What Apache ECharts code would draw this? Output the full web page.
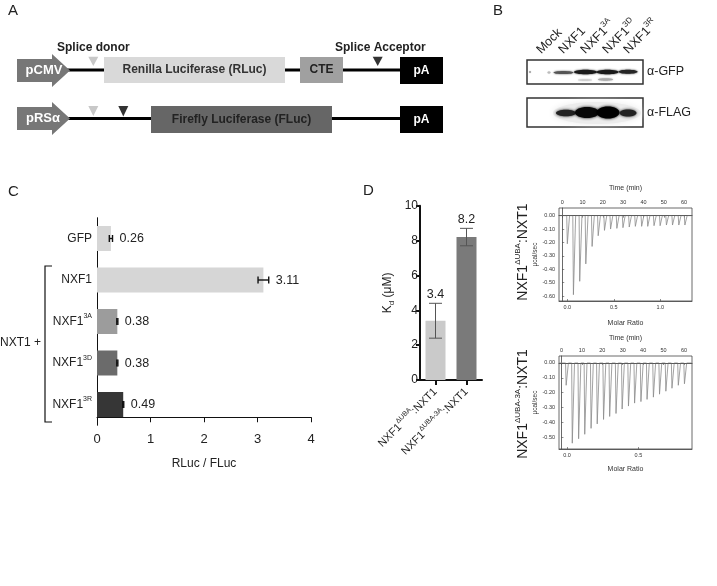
<!DOCTYPE html>
<html>
<head>
<meta charset="utf-8">
<script src="https://cdn.jsdelivr.net/npm/echarts@6/dist/echarts.min.js"></script>
<style>
html, body { margin: 0; padding: 0; background: #fff; }
#main { width: 717px; height: 586px; }
</style>
</head>
<body>
<div id="main"></div>
<script>
var FONT = '"Liberation Sans", Arial, Helvetica, sans-serif';

// panel C - splicing reporter (RLuc / FLuc)
var reporterNames = ['GFP', 'NXF1', 'NXF1^3A', 'NXF1^3D', 'NXF1^3R'];
var reporterRatio = [0.26, 3.11, 0.38, 0.38, 0.49];
var reporterErr = [0.03, 0.10, 0.01, 0.01, 0.01];
var reporterColors = ['#d6d6d6', '#d6d6d6', '#9c9c9c', '#6b6b6b', '#363636'];
var ratioTicks = [0, 1, 2, 3, 4];

// panel D - Kd bars
var kdNames = ['NXF1^ΔUBA^:NXT1', 'NXF1^ΔUBA-3A^:NXT1'];
var kdValues = [3.4, 8.2];
var kdErr = [1.0, 0.5];
var kdColors = ['#cacaca', '#7a7a7a'];
var kdTicks = [0, 2, 4, 6, 8, 10];

// panel D - ITC traces (injection time in min, peak in µcal/sec)
var itcTime1 = [2.2, 5.2, 8.3, 11.3, 14.4, 17.4, 20.5, 23.5, 26.6, 29.6, 32.7, 35.7, 38.8, 41.8, 44.9, 47.9, 51.0, 54.0, 57.1, 60.1];
var itcPeak1 = [-0.21, -0.59, -0.49, -0.36, -0.23, -0.15, -0.11, -0.10, -0.095, -0.09, -0.085, -0.08, -0.08, -0.08, -0.075, -0.075, -0.07, -0.07, -0.07, -0.07];
var itcTime2 = [2.0, 5.0, 8.1, 11.1, 14.2, 17.2, 20.3, 23.3, 26.4, 29.4, 32.5, 35.5, 38.6, 41.6, 44.7, 47.7, 50.8, 53.8, 56.9, 59.9];
var itcPeak2 = [-0.15, -0.54, -0.51, -0.48, -0.44, -0.41, -0.38, -0.36, -0.34, -0.31, -0.29, -0.27, -0.26, -0.245, -0.23, -0.21, -0.19, -0.17, -0.15, -0.14];
var timeTicks = [0, 10, 20, 30, 40, 50, 60];
var molarTicks1 = [0, 0.5, 1.0];
var molarTicks2 = [0, 0.5];
var itcTicks1 = [0, -0.1, -0.2, -0.3, -0.4, -0.5, -0.6];
var itcTicks2 = [0, -0.1, -0.2, -0.3, -0.4, -0.5];

// panel B - blot lanes
var laneNames = ['Mock', 'NXF1', 'NXF1^3A', 'NXF1^3D', 'NXF1^3R'];

function supText(s) {
	var p = s.split('^');
	var out = '{m|' + p[0] + '}';
	if (p[1]) out += '{s|' + p[1] + '}';
	if (p[2]) out += '{m|' + p[2] + '}';
	return out;
}
function supRich(size, color, weight) {
	var small = Math.round(size * 0.6);
	return {
		m: { fontSize: size, color: color, fill: color, fontFamily: FONT, fontWeight: weight || 'normal', lineHeight: size + 5 },
		s: { fontSize: small, color: color, fill: color, fontFamily: FONT, verticalAlign: 'top', lineHeight: small + 1 }
	};
}

// spike trace: each injection drawn as a sharp dip back to baseline
function itcTrace(times, peaks, tMin, tMax) {
	var pts = [[tMin, 0]];
	for (var i = 0; i < times.length; i++) {
		pts.push([times[i], 0]);
		pts.push([times[i] + 0.3, peaks[i]]);
		pts.push([times[i] + 1.4, 0]);
	}
	pts.push([tMax, 0]);
	return pts;
}

function txt(x, y, text, size, opt) {
	opt = opt || {};
	return {
		type: 'text', x: x, y: y, silent: true, rotation: opt.rotation || 0,
		style: {
			text: text, fontSize: size, fontFamily: FONT, fontWeight: opt.weight || 'normal',
			fill: opt.color || '#222',
			align: opt.align || 'left', textAlign: opt.align || 'left',
			verticalAlign: opt.valign || 'middle', textVerticalAlign: opt.valign || 'middle',
			rich: opt.rich
		}
	};
}
function box(x, y, w, h, fill, stroke) {
	return { type: 'rect', silent: true, shape: { x: x, y: y, width: w, height: h },
		style: { fill: fill, stroke: stroke || null, lineWidth: stroke ? 1.5 : 0 } };
}
function tri(x, y, w, h, fill) {
	return { type: 'polygon', silent: true, shape: { points: [[x, y], [x + w, y], [x + w / 2, y + h]] }, style: { fill: fill } };
}
function promoter(cy) {
	return { type: 'polygon', silent: true,
		shape: { points: [[17, cy - 11.5], [52, cy - 11.5], [52, cy - 16.5], [70, cy], [52, cy + 16.5], [52, cy + 11.5], [17, cy + 11.5]] },
		style: { fill: '#777' } };
}
function band(cx, cy, rx, ry, color, blur) {
	return { type: 'ellipse', silent: true, shape: { cx: cx, cy: cy, rx: rx, ry: ry },
		style: { fill: color, shadowBlur: blur || 2, shadowColor: color } };
}

var graphics = [
	// panel letters
	txt(8, 11, 'A', 15), txt(493, 11, 'B', 15), txt(8, 192, 'C', 15), txt(363, 191, 'D', 15),

	// panel A - reporter constructs
	{ type: 'line', silent: true, shape: { x1: 60, y1: 70, x2: 405, y2: 70 }, style: { stroke: '#000', lineWidth: 3 } },
	{ type: 'line', silent: true, shape: { x1: 60, y1: 118.5, x2: 405, y2: 118.5 }, style: { stroke: '#000', lineWidth: 3 } },
	promoter(70.5), promoter(118.5),
	txt(44, 70.5, 'pCMV', 13, { weight: 'bold', color: '#fff', align: 'center' }),
	txt(43, 118.5, 'pRSα', 13, { weight: 'bold', color: '#fff', align: 'center' }),
	tri(88.3, 56.7, 10, 9.3, '#c8c8c8'), tri(372.7, 56.7, 10, 9.3, '#333'),
	tri(88.3, 106, 10, 10, '#c8c8c8'), tri(118.3, 106, 10, 10.5, '#333'),
	box(104, 57, 181, 26, '#d9d9d9'),
	txt(194.5, 70, 'Renilla Luciferase (RLuc)', 12, { weight: 'bold', color: '#333', align: 'center' }),
	box(300, 57, 43, 26, '#a0a0a0'),
	txt(321.5, 70, 'CTE', 12, { weight: 'bold', color: '#222', align: 'center' }),
	box(400, 57, 43, 27, '#000'),
	txt(421.5, 70.5, 'pA', 12, { weight: 'bold', color: '#fff', align: 'center' }),
	box(151, 106, 181, 27, '#666'),
	txt(241.5, 119.5, 'Firefly Luciferase (FLuc)', 12, { weight: 'bold', color: '#222', align: 'center' }),
	box(400, 106, 43, 27, '#000'),
	txt(421.5, 119.5, 'pA', 12, { weight: 'bold', color: '#fff', align: 'center' }),
	txt(57, 48, 'Splice donor', 12, { weight: 'bold' }),
	txt(335, 48, 'Splice Acceptor', 12, { weight: 'bold' }),

	// panel B - western blot
	box(527, 60, 116, 24, '#fff', '#333'),
	box(527, 98, 116, 29, '#fff', '#333'),
	band(530, 72, 1, 1, '#aaa', 1), band(549, 72.5, 1.5, 1, '#bbb', 1),
	band(563.5, 72.5, 10, 1.6, '#555'),
	band(585.5, 72, 11.5, 2.3, '#1a1a1a'),
	band(607.5, 72, 11, 2.3, '#1a1a1a'),
	band(628, 71.8, 9.5, 2, '#262626'),
	band(585, 80, 7, 1, '#d0d0d0'), band(605.5, 79.5, 7.5, 1.2, '#aaa'),
	band(597, 113, 44, 11, '#ececec', 6),
	band(566, 113, 10, 3.2, '#222', 3),
	band(587, 112.5, 12, 5.5, '#080808', 3),
	band(608, 112.5, 11.5, 6, '#000', 3),
	band(628, 113, 8.5, 3.5, '#222', 3),
	txt(647, 72, 'α-GFP', 12.5),
	txt(647, 113, 'α-FLAG', 12.5),

	// panel C - NXT1 + bracket
	{ type: 'polyline', silent: true, shape: { points: [[52, 266], [45, 266], [45, 422], [52, 422]] }, style: { stroke: '#111', lineWidth: 1.2, fill: null } },
	txt(0, 343, 'NXT1 +', 12),

	// panel D - ITC construct labels
	txt(523, 252, supText('NXF1^ΔUBA^:NXT1'), 14, { rotation: Math.PI / 2, align: 'center', rich: supRich(14, '#222') }),
	txt(523, 404, supText('NXF1^ΔUBA-3A^:NXT1'), 14, { rotation: Math.PI / 2, align: 'center', rich: supRich(14, '#222') })
];

// blot lane labels, rotated 45 degrees
var laneX = [545, 567, 589, 611, 632];
laneNames.forEach(function (n, i) {
	graphics.push(txt(laneX[i], 58, supText(n), 12.5, { rotation: Math.PI / 4, valign: 'bottom', rich: supRich(12.5, '#222') }));
});

function itcX(grid, min, max, ticks, pos, name, gap, fmt) {
	return {
		gridIndex: grid, type: 'value', position: pos, min: min, max: max,
		axisLine: { show: true, lineStyle: { color: '#444', width: 0.8 } },
		axisTick: { show: true, inside: true, length: 2, customValues: ticks, lineStyle: { color: '#444', width: 0.6 } },
		axisLabel: { customValues: ticks, fontSize: 5.5, color: '#333', margin: 3, formatter: fmt },
		splitLine: { show: false },
		name: name, nameLocation: 'middle', nameGap: gap,
		nameTextStyle: { fontSize: 7, color: '#333' }
	};
}
function itcY(grid, min, max, ticks) {
	return {
		gridIndex: grid, type: 'value', min: min, max: max,
		axisLine: { show: true, lineStyle: { color: '#444', width: 0.8 } },
		axisTick: { show: true, inside: true, length: 2, customValues: ticks, lineStyle: { color: '#444', width: 0.6 } },
		axisLabel: { customValues: ticks, fontSize: 5.5, color: '#333', margin: 4, formatter: function (v) { return v.toFixed(2); } },
		splitLine: { show: false },
		name: 'μcal/sec', nameLocation: 'middle', nameRotate: 90, nameGap: 19,
		nameTextStyle: { fontSize: 6.5, color: '#333' }
	};
}
function fmt1(v) { return v.toFixed(1); }
function fmt0(v) { return String(v); }

var chart = echarts.init(document.getElementById('main'));
var option = {
	animation: false,
	textStyle: { fontFamily: FONT },
	graphic: graphics,
	grid: [
		{ left: 97, top: 217.75, width: 214, height: 207.5, outerBoundsMode: 'none' },
		{ left: 420, top: 205.7, width: 62, height: 174.3, outerBoundsMode: 'none' },
		{ left: 559, top: 208, width: 133, height: 93, show: true, borderColor: '#444', borderWidth: 0.8, outerBoundsMode: 'none' },
		{ left: 559, top: 356, width: 133, height: 93, show: true, borderColor: '#444', borderWidth: 0.8, outerBoundsMode: 'none' }
	],
	xAxis: [
		{
			gridIndex: 0, type: 'value', min: ratioTicks[0], max: ratioTicks[ratioTicks.length - 1], interval: 1,
			position: 'bottom', offset: -8,
			axisLine: { show: true, lineStyle: { color: '#111', width: 1 } },
			axisTick: { show: true, length: 5, lineStyle: { color: '#111' } },
			axisLabel: { fontSize: 13, color: '#222', margin: 16 },
			splitLine: { show: false },
			name: 'RLuc / FLuc', nameLocation: 'middle', nameGap: 40,
			nameTextStyle: { fontSize: 12, color: '#222' }
		},
		{
			gridIndex: 1, type: 'category', data: kdNames,
			axisLine: { lineStyle: { color: '#111', width: 2 } },
			axisTick: { show: true, alignWithLabel: true, length: 5, lineStyle: { color: '#111', width: 2 } },
			axisLabel: { interval: 0, rotate: 45, margin: 10, formatter: supText, rich: supRich(11, '#222') }
		},
		itcX(2, -1.6, 63.9, timeTicks, 'top', 'Time (min)', 16, fmt0),
		itcX(2, -0.089, 1.34, molarTicks1, 'bottom', 'Molar Ratio', 19, fmt1),
		itcX(3, -1.2, 63.9, timeTicks, 'top', 'Time (min)', 14, fmt0),
		itcX(3, -0.056, 0.875, molarTicks2, 'bottom', 'Molar Ratio', 17, fmt1)
	],
	yAxis: [
		{
			gridIndex: 0, type: 'category', data: reporterNames, inverse: true,
			axisLine: { show: true, lineStyle: { color: '#111', width: 1 } },
			axisTick: { show: false },
			axisLabel: { margin: 5, formatter: supText, rich: supRich(12, '#222') }
		},
		{
			gridIndex: 1, type: 'value', min: kdTicks[0], max: kdTicks[kdTicks.length - 1], interval: 2,
			axisLine: { show: true, lineStyle: { color: '#111', width: 2 } },
			axisTick: { show: true, length: 4, lineStyle: { color: '#111', width: 2 } },
			axisLabel: { fontSize: 12, color: '#222', margin: 2 },
			splitLine: { show: false },
			name: '{k|K}{d|d}{k| (μM)}', nameLocation: 'middle', nameRotate: 90, nameGap: 24,
			nameTextStyle: {
				rich: {
					k: { fontSize: 12, color: '#222', fontFamily: FONT, lineHeight: 16 },
					d: { fontSize: 8, color: '#222', fontFamily: FONT, verticalAlign: 'bottom', lineHeight: 9 }
				}
			}
		},
		itcY(2, -0.637, 0.057, itcTicks1),
		itcY(3, -0.579, 0.047, itcTicks2)
	],
	series: [
		{
			type: 'bar', xAxisIndex: 0, yAxisIndex: 0, barWidth: 25,
			data: reporterRatio.map(function (v, i) { return { value: v, itemStyle: { color: reporterColors[i] } }; })
		},
		{
			type: 'custom', xAxisIndex: 0, yAxisIndex: 0, z: 5,
			data: reporterRatio.map(function (v, i) { return [v, i, reporterErr[i]]; }),
			encode: { x: 0, y: 1 },
			renderItem: function (params, api) {
				var v = api.value(0), idx = api.value(1), e = api.value(2);
				var lo = api.coord([v - e, idx]), hi = api.coord([v + e, idx]);
				var s = { stroke: '#111', lineWidth: 1.4 };
				return { type: 'group', children: [
					{ type: 'line', shape: { x1: lo[0], y1: lo[1], x2: hi[0], y2: hi[1] }, style: s },
					{ type: 'line', shape: { x1: lo[0], y1: lo[1] - 3.5, x2: lo[0], y2: lo[1] + 3.5 }, style: s },
					{ type: 'line', shape: { x1: hi[0], y1: hi[1] - 3.5, x2: hi[0], y2: hi[1] + 3.5 }, style: s },
					{ type: 'text', x: hi[0] + 7, y: hi[1] + 0.5, style: {
						text: v.toFixed(2), fontSize: 12.5, fontFamily: FONT, fill: '#222',
						align: 'left', textAlign: 'left', verticalAlign: 'middle', textVerticalAlign: 'middle' } }
				] };
			}
		},
		{
			type: 'bar', xAxisIndex: 1, yAxisIndex: 1, barWidth: 20,
			data: kdValues.map(function (v, i) { return { value: v, itemStyle: { color: kdColors[i] } }; })
		},
		{
			type: 'custom', xAxisIndex: 1, yAxisIndex: 1, z: 5,
			data: kdValues.map(function (v, i) { return [i, v, kdErr[i]]; }),
			encode: { x: 0, y: 1 },
			renderItem: function (params, api) {
				var idx = api.value(0), v = api.value(1), e = api.value(2);
				var lo = api.coord([idx, v - e]), hi = api.coord([idx, v + e]);
				var s = { stroke: '#555', lineWidth: 1 };
				return { type: 'group', children: [
					{ type: 'line', shape: { x1: lo[0], y1: lo[1], x2: hi[0], y2: hi[1] }, style: s },
					{ type: 'line', shape: { x1: lo[0] - 6.5, y1: lo[1], x2: lo[0] + 6.5, y2: lo[1] }, style: s },
					{ type: 'line', shape: { x1: hi[0] - 6.5, y1: hi[1], x2: hi[0] + 6.5, y2: hi[1] }, style: s },
					{ type: 'text', x: hi[0], y: hi[1] - 9, style: {
						text: v.toFixed(1), fontSize: 12.5, fontFamily: FONT, fill: '#222',
						align: 'center', textAlign: 'center', verticalAlign: 'middle', textVerticalAlign: 'middle' } }
				] };
			}
		},
		{
			type: 'line', xAxisIndex: 2, yAxisIndex: 2, showSymbol: false, symbol: 'none',
			lineStyle: { color: '#8a8a8a', width: 0.8 },
			data: itcTrace(itcTime1, itcPeak1, -1.6, 63.9),
			markLine: { silent: true, symbol: 'none', label: { show: false },
				lineStyle: { color: '#555', width: 0.8, type: 'solid' }, data: [{ yAxis: 0 }] }
		},
		{
			type: 'line', xAxisIndex: 4, yAxisIndex: 3, showSymbol: false, symbol: 'none',
			lineStyle: { color: '#8a8a8a', width: 0.8 },
			data: itcTrace(itcTime2, itcPeak2, -1.2, 63.9),
			markLine: { silent: true, symbol: 'none', label: { show: false },
				lineStyle: { color: '#555', width: 0.8, type: 'solid' }, data: [{ yAxis: 0 }] }
		}
	]
};
chart.setOption(option);
</script>
</body>
</html>
